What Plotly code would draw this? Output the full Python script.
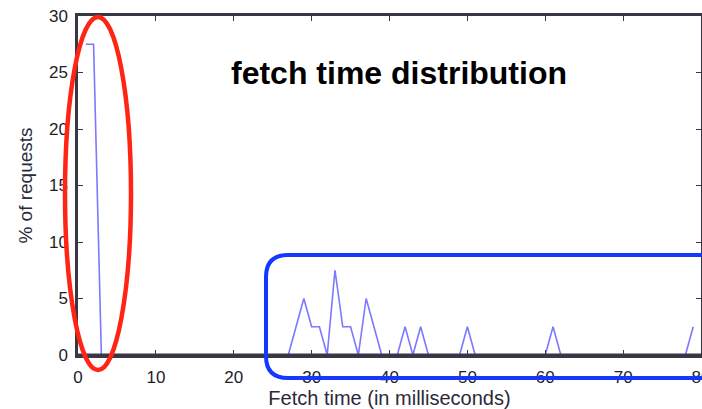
import plotly.graph_objects as go

# Share of requests (%) per fetch-time bucket (ms)
fetch_ms = list(range(1, 80))
pct_requests = [
    27.5, 27.5, 0, 0, 0, 0, 0, 0, 0, 0,      # 1-10
    0, 0, 0, 0, 0, 0, 0, 0, 0, 0,            # 11-20
    0, 0, 0, 0, 0, 0, 0, 2.5, 5, 2.5,        # 21-30
    2.5, 0, 7.5, 2.5, 2.5, 0, 5, 2.5, 0, 0,  # 31-40
    0, 2.5, 0, 2.5, 0, 0, 0, 0, 0, 2.5,      # 41-50
    0, 0, 0, 0, 0, 0, 0, 0, 0, 0,            # 51-60
    2.5, 0, 0, 0, 0, 0, 0, 0, 0, 0,          # 61-70
    0, 0, 0, 0, 0, 0, 0, 0, 2.5,             # 71-79
]
x_ticks = [0, 10, 20, 30, 40, 50, 60, 70, 80]
y_ticks = [0, 5, 10, 15, 20, 25, 30]

W, H = 702, 409
L, R, T, B = 78, 1, 16, 54
pw, ph = W - L - R, H - T - B
FRAME = "#383844"


def px(xp):
    return (xp - L) / pw


def py(yp):
    return (H - B - yp) / ph


fig = go.Figure()
fig.add_trace(go.Scatter(
    x=fetch_ms, y=pct_requests, mode="lines",
    line=dict(color="#7c78ff", width=1.6),
    showlegend=False, hoverinfo="skip",
))

axis_common = dict(
    showline=True, mirror="ticks", linecolor=FRAME, linewidth=2.5,
    ticks="inside", ticklen=5, tickwidth=1, tickcolor=FRAME,
    showgrid=False, zeroline=False, layer="above traces",
    automargin=False, ticklabeloverflow="allow",
    tickfont=dict(family="Liberation Sans, Arial, sans-serif", size=17, color="#1e1e28"),
)

fig.update_xaxes(
    range=[0, 80], tickvals=x_ticks, ticklabelstandoff=5,
    title=dict(text="Fetch time (in milliseconds)", standoff=5,
               font=dict(family="Liberation Sans, Arial, sans-serif", size=20, color="#2a2a3a")),
    **axis_common,
)
fig.update_yaxes(
    range=[0, 30], tickvals=y_ticks, ticklabelstandoff=4,
    title=dict(text="% of requests", standoff=12,
               font=dict(family="Liberation Sans, Arial, sans-serif", size=19, color="#2a2a3a")),
    **axis_common,
)

# Baseline drawn over the zero-valued stretch of the series
fig.add_shape(
    type="line", xref="paper", yref="paper", x0=0, x1=1, y0=0, y1=0,
    line=dict(color=FRAME, width=3), layer="above",
)

# Chart heading
fig.add_annotation(
    x=px(399), y=py(73), xref="paper", yref="paper",
    text="<b>fetch time distribution</b>", showarrow=False,
    font=dict(family="Liberation Sans, Arial, sans-serif", size=32, color="#000000"),
    xanchor="center", yanchor="middle",
)

# Red ellipse around the fast-fetch spike
fig.add_shape(
    type="circle", xref="paper", yref="paper",
    x0=px(65), x1=px(131), y0=py(370), y1=py(17),
    line=dict(color="#ff2414", width=4.5),
)

# Blue rounded box around the slow-fetch tail
bx0, bx1, by0, by1, rad = 266, 730, 255, 378, 22
path = (
    f"M {px(bx1)},{py(by0)} "
    f"L {px(bx0 + rad)},{py(by0)} "
    f"Q {px(bx0)},{py(by0)} {px(bx0)},{py(by0 + rad)} "
    f"L {px(bx0)},{py(by1 - rad)} "
    f"Q {px(bx0)},{py(by1)} {px(bx0 + rad)},{py(by1)} "
    f"L {px(bx1)},{py(by1)}"
)
fig.add_shape(
    type="path", xref="paper", yref="paper", path=path,
    line=dict(color="#1438ff", width=4),
)

fig.update_layout(
    width=W, height=H,
    margin=dict(l=L, r=R, t=T, b=B, pad=0, autoexpand=False),
    paper_bgcolor="white", plot_bgcolor="white",
)

fig.write_html("out.html")
